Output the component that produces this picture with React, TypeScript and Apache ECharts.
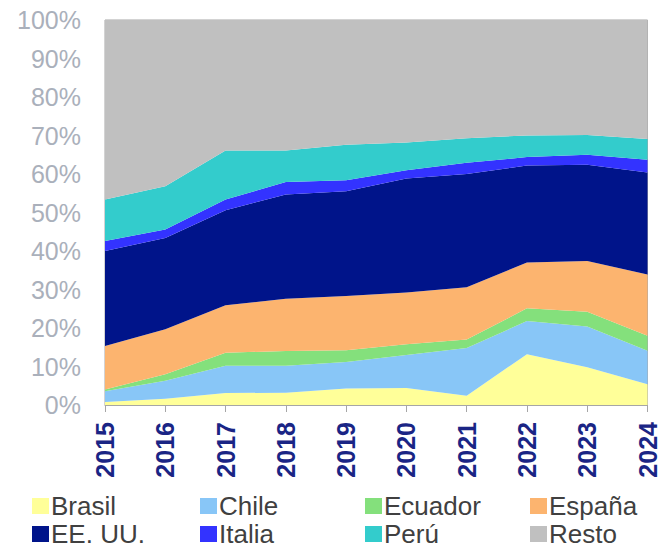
import React, { useEffect, useRef } from "react";
import * as echarts from "echarts";

const years = ["2015", "2016", "2017", "2018", "2019", "2020", "2021", "2022", "2023", "2024"];
const brasil = [0.8, 1.6, 3.1, 3.2, 4.3, 4.4, 2.4, 13.2, 9.8, 5.4];
const chile = [2.8, 4.7, 7.1, 7.0, 6.9, 8.6, 12.4, 8.6, 10.6, 8.7];
const ecuador = [0.4, 1.7, 3.4, 3.8, 3.0, 2.8, 2.2, 3.3, 3.8, 3.9];
const espana = [11.3, 11.7, 12.3, 13.6, 14.1, 13.4, 13.6, 11.9, 13.2, 15.9];
const eeuu = [24.7, 23.7, 24.7, 27.1, 27.2, 29.6, 29.4, 25.2, 25.0, 26.5];
const italia = [2.6, 2.2, 2.8, 3.2, 2.9, 2.2, 2.9, 2.2, 2.6, 3.3];
const peru = [10.8, 11.2, 12.7, 8.2, 9.2, 7.2, 6.4, 5.6, 5.1, 5.4];
const resto = [46.6, 43.2, 33.9, 33.9, 32.4, 31.8, 30.7, 30.0, 29.9, 30.9];

const seriesNames = ["Brasil", "Chile", "Ecuador", "España", "EE. UU.", "Italia", "Perú", "Resto"];
const seriesData = [brasil, chile, ecuador, espana, eeuu, italia, peru, resto];
const seriesColors = ["#ffff99", "#88c6f7", "#84e07c", "#fcb46f", "#00148a", "#3333ff", "#33cccc", "#c0c0c0"];

// legend positions (column x, row y)
const legendCols = [32, 200, 365, 530];
const legendRows = [493, 521];

export default function App() {
  const ref = useRef<HTMLDivElement>(null);
  useEffect(() => {
    if (!ref.current) return;
    const chart = echarts.init(ref.current, null, { renderer: "svg" });
    const legends = seriesNames.map((name, i) => ({
      data: [name],
      left: legendCols[i % 4],
      top: legendRows[Math.floor(i / 4)],
      icon: "rect",
      itemWidth: 17,
      itemHeight: 16,
      padding: 0,
      selectedMode: false,
      textStyle: {
        fontFamily: "Liberation Sans, Arial, sans-serif",
        fontSize: 26,
        color: "#404040",
        lineHeight: 26,
        padding: [0, 0, 0, -3],
      },
    }));
    chart.setOption({
      animation: false,
      backgroundColor: "#ffffff",
      grid: {
        left: 105,
        right: 8,
        top: 20,
        bottom: 145,
        show: true,
        borderColor: "#a6a6a6",
        borderWidth: 1,
        backgroundColor: "transparent",
      },
      legend: legends,
      xAxis: {
        type: "category",
        data: years,
        boundaryGap: false,
        axisLine: { show: true, lineStyle: { color: "#a6a6a6", width: 1 } },
        axisTick: { show: true, length: 7, lineStyle: { color: "#a6a6a6" } },
        axisLabel: {
          interval: 0,
          rotate: 90,
          margin: 17,
          fontFamily: "Liberation Sans, Arial, sans-serif",
          fontSize: 25,
          fontWeight: "bold",
          color: "#1a2585",
        },
        splitLine: { show: false },
      },
      yAxis: {
        type: "value",
        min: 0,
        max: 100,
        interval: 10,
        axisLine: { show: false },
        axisTick: { show: false },
        splitLine: { show: false },
        axisLabel: {
          formatter: "{value}%",
          margin: 24,
          fontFamily: "Liberation Sans, Arial, sans-serif",
          fontSize: 25,
          color: "#aab0bb",
        },
      },
      series: seriesNames.map((name, i) => ({
        name,
        type: "line",
        stack: "total",
        data: seriesData[i],
        symbol: "none",
        lineStyle: { width: 0, color: seriesColors[i] },
        itemStyle: { color: seriesColors[i] },
        areaStyle: { color: seriesColors[i], opacity: 1 },
      })),
    });
    return () => chart.dispose();
  }, []);
  return (
    <div
      ref={ref}
      style={{ position: "fixed", left: 0, top: 0, width: 660, height: 550 }}
    />
  );
}
